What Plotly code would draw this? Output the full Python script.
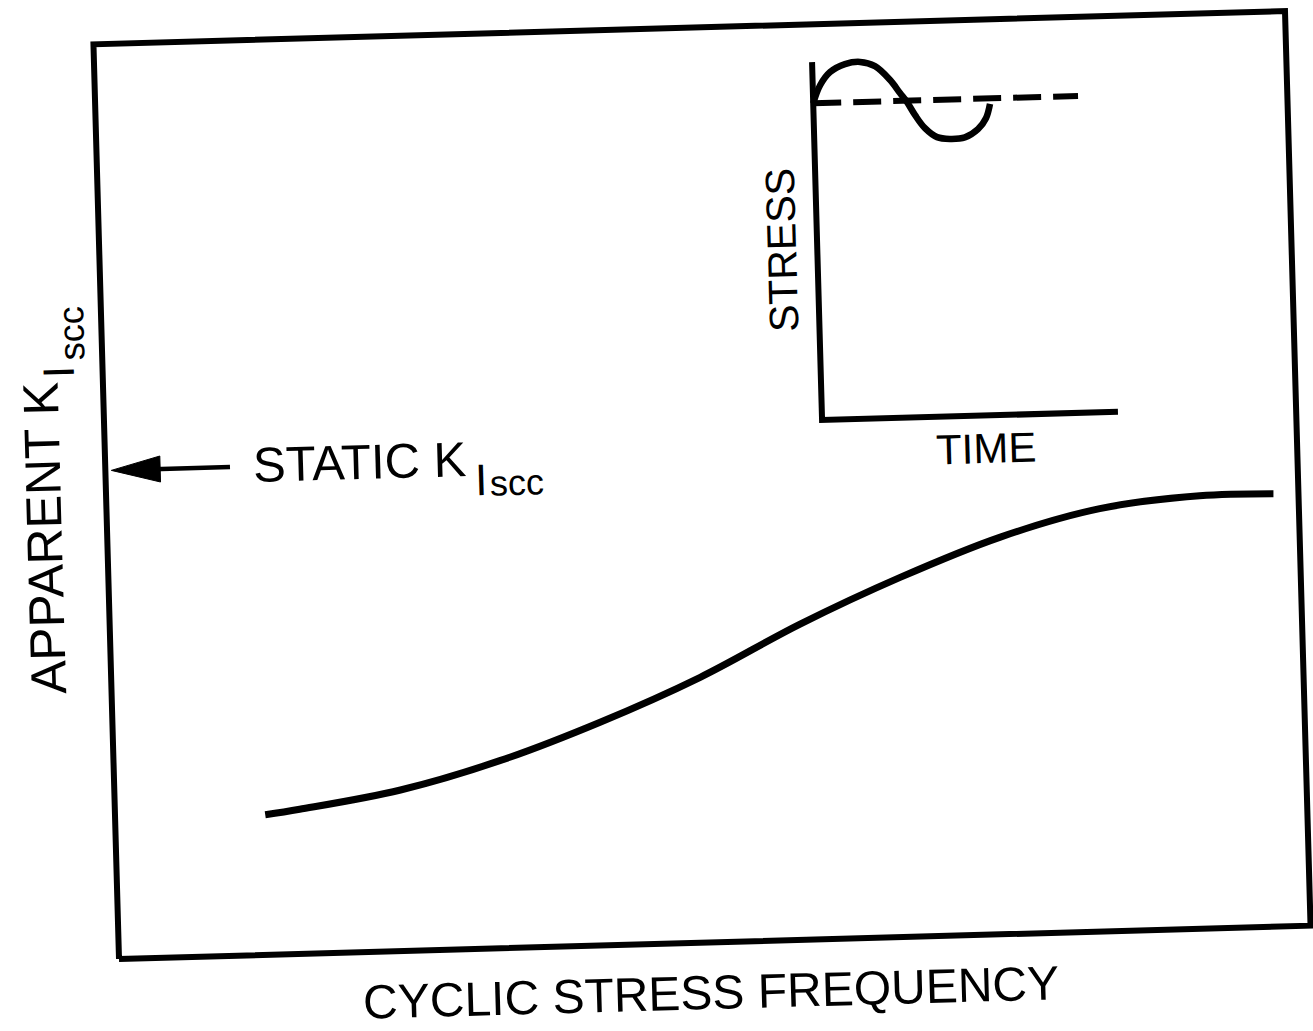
import math
import plotly.graph_objects as go

# ---------------- data ----------------
# Main chart, in units of the main frame (0-100 across = cyclic stress frequency,
# 0-100 up = apparent K_Iscc); schematic, no numeric scale on the original.
freq = [12.6, 15.5, 24.0, 32.4, 40.9, 49.4, 57.9, 66.4, 74.9, 83.3, 91.7, 97.9]
k_apparent = [15.3, 15.8, 17.6, 20.5, 24.4, 29.0, 34.5, 39.3, 43.4, 46.2, 47.3, 47.3]
static_kiscc = 53.4          # level that the arrow points to on the left axis

# Inset (0-100 along TIME, 0-100 up STRESS)
inset_time = [0.0, 2.5, 6.0, 11.1, 16.2, 21.2, 26.2, 29.4, 31.7, 34.3, 37.5,
              41.5, 45.9, 50.9, 55.4, 58.2, 59.7]
inset_stress = [88.5, 93.5, 97.1, 99.2, 99.7, 98.4, 94.4, 90.7, 88.1, 84.4, 80.7,
                78.1, 77.5, 77.8, 80.0, 83.0, 87.0]
mean_stress = 88.5
mean_time = [0.0, 89.5]

# ---------------- page geometry (scanned page is slightly rotated) ----------------
PAGE_W, PAGE_H = 1313, 1031
CX, CY = 702.0, 485.0        # frame centre (screen px)
FW, FH = 1192.0, 915.0       # frame size (px)
ROT = 1.6                    # degrees, counter-clockwise
cs, sn = math.cos(math.radians(ROT)), math.sin(math.radians(ROT))

INSET_U0, INSET_V0 = 60.22, 56.73      # inset origin in frame units
INSET_SU = 296.0 / FW                  # frame units per inset unit
INSET_SV = 358.0 / FH


def to_canvas(u, v):
    dx = (u / 100.0 - 0.5) * FW
    dy = (v / 100.0 - 0.5) * FH
    X = dx * cs - dy * sn
    Y = dx * sn + dy * cs
    return CX + X, (PAGE_H - CY) + Y


def many(us, vs):
    pts = [to_canvas(u, v) for u, v in zip(us, vs)]
    return [p[0] for p in pts], [p[1] for p in pts]


def inset_to_frame(t, s):
    return INSET_U0 + t * INSET_SU, INSET_V0 + s * INSET_SV


def inset_many(ts, ss):
    fr = [inset_to_frame(t, s) for t, s in zip(ts, ss)]
    return many([f[0] for f in fr], [f[1] for f in fr])


fig = go.Figure()
BLACK = "#000000"

# main frame
fx, fy = many([0, 100, 100, 0, 0], [0, 0, 100, 100, 0])
fig.add_trace(go.Scatter(x=fx, y=fy, mode="lines",
                         line=dict(color=BLACK, width=6), hoverinfo="skip"))

# main curve
cx_, cy_ = many(freq, k_apparent)
fig.add_trace(go.Scatter(x=cx_, y=cy_, mode="lines",
                         line=dict(color=BLACK, width=7, shape="spline", smoothing=1.0),
                         hoverinfo="skip"))

# static K_Iscc arrow
ax_, ay_ = many([4.0, 10.46], [static_kiscc, static_kiscc])
fig.add_trace(go.Scatter(x=ax_, y=ay_, mode="lines",
                         line=dict(color=BLACK, width=4.5), hoverinfo="skip"))
hx, hy = many([0.5, 4.6, 4.6, 0.5], [static_kiscc, static_kiscc + 1.42,
                                      static_kiscc - 1.42, static_kiscc])
fig.add_trace(go.Scatter(x=hx, y=hy, mode="lines", fill="toself", fillcolor=BLACK,
                         line=dict(color=BLACK, width=1), hoverinfo="skip"))

# inset axes
ix, iy = inset_many([0, 0, 100], [100, 0, 0])
fig.add_trace(go.Scatter(x=ix, y=iy, mode="lines",
                         line=dict(color=BLACK, width=6), hoverinfo="skip"))
# inset mean stress (dashed)
dx_, dy_ = inset_many(mean_time, [mean_stress, mean_stress])
fig.add_trace(go.Scatter(x=dx_, y=dy_, mode="lines",
                         line=dict(color=BLACK, width=6, dash="28px,12px"),
                         hoverinfo="skip"))
# inset cyclic stress
sx_, sy_ = inset_many(inset_time, inset_stress)
fig.add_trace(go.Scatter(x=sx_, y=sy_, mode="lines",
                         line=dict(color=BLACK, width=6.5, shape="spline", smoothing=1.0),
                         hoverinfo="skip"))

FONT = "Liberation Sans, Arial, Helvetica, sans-serif"


def label(text, u, v, size, angle=0.0):
    x, y = to_canvas(u, v)
    fig.add_annotation(x=x, y=y, xref="x", yref="y", text=text, showarrow=False,
                       textangle=angle - ROT, xanchor="center", yanchor="middle",
                       font=dict(family=FONT, size=size, color=BLACK))


# axis titles of the main chart
label("CYCLIC STRESS FREQUENCY", 49.55, -5.5, 48)
label("APPARENT K", -5.22, 46.2, 50, angle=-90)
label("I", -3.74, 64.3, 44, angle=-90)
label("scc", -2.56, 68.5, 36, angle=-90)

# static label
label("STATIC K", 21.38, 53.55, 49)
label("I", 31.52, 51.25, 44)
label("scc", 34.48, 50.88, 36)

# inset labels
tu, tv = inset_to_frame(55.1, -9.1)
label("TIME", tu, tv, 42)
su, sv = inset_to_frame(-11.9, 47.8)
label("STRESS", su, sv, 41, angle=-90)

fig.update_layout(
    width=PAGE_W, height=PAGE_H,
    margin=dict(l=0, r=0, t=0, b=0),
    paper_bgcolor="white", plot_bgcolor="white",
    showlegend=False,
    xaxis=dict(range=[0, PAGE_W], visible=False, fixedrange=True),
    yaxis=dict(range=[0, PAGE_H], visible=False, fixedrange=True),
)

fig.write_html("out.html", post_script="document.body.style.margin='0';",
               config={"displayModeBar": False})
